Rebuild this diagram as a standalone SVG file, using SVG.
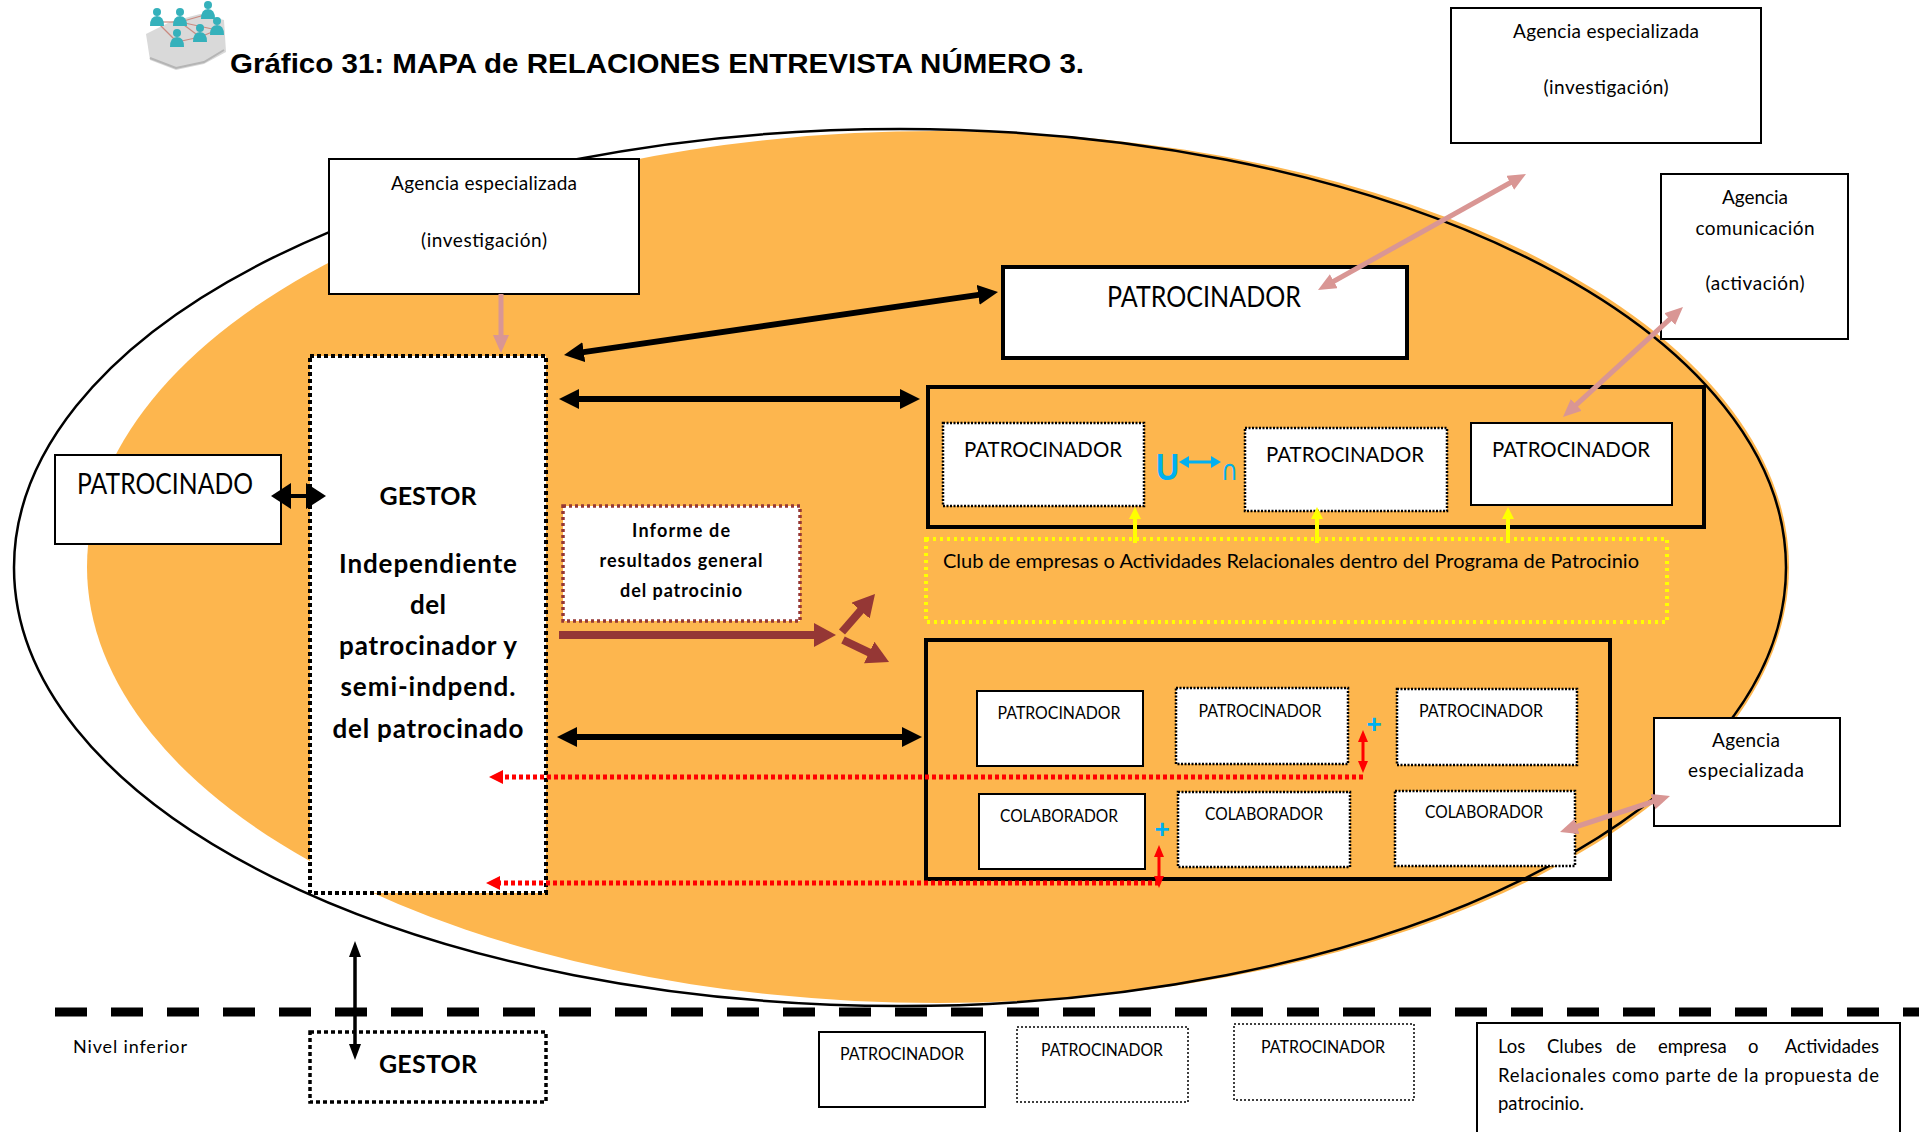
<svg xmlns="http://www.w3.org/2000/svg" width="1919" height="1132" viewBox="0 0 1919 1132">
  <style>
    .t { font-family: Lato, "Open Sans", "Liberation Sans", sans-serif; fill: #000; }
    .b { font-weight: bold; }
    .c { text-anchor: middle; }
    .box { fill: #fff; stroke: #000; stroke-width: 2; }
    .boxThick { fill: #fff; stroke: #000; stroke-width: 4; }
    .grp { fill: none; stroke: #000; stroke-width: 4; }
    .dot { fill: #fff; stroke: #000; stroke-width: 2.5; stroke-dasharray: 2 1.5; }
    .dotThin { fill: #fff; stroke: #000; stroke-width: 1.5; stroke-dasharray: 2 2; }
    .blk { stroke: #000; stroke-width: 6; fill: none; }
    .pink { stroke: #D99694; stroke-width: 5; fill: none; }
    .brown { stroke: #953735; stroke-width: 8; fill: none; }
    .yel { stroke: #FFFF00; stroke-width: 4; fill: none; }
    .red { stroke: #FF0000; stroke-width: 3; fill: none; }
    .redDot { stroke: #FF0000; stroke-width: 5; fill: none; stroke-dasharray: 4 3; }
  </style>
  <defs>
    <marker id="hBlk" markerUnits="userSpaceOnUse" markerWidth="22" markerHeight="22" refX="2" refY="10" orient="auto-start-reverse"><path d="M0,0 L20,10 L0,20 z" fill="#000"/></marker>
    <marker id="hBlkBig" markerUnits="userSpaceOnUse" markerWidth="22" markerHeight="28" refX="2" refY="13" orient="auto-start-reverse"><path d="M0,0 L20,13 L0,26 z" fill="#000"/></marker>
    <marker id="hBlkSm" markerUnits="userSpaceOnUse" markerWidth="18" markerHeight="14" refX="2" refY="6" orient="auto-start-reverse"><path d="M0,0 L16,6 L0,12 z" fill="#000"/></marker>
    <marker id="hPink" markerUnits="userSpaceOnUse" markerWidth="20" markerHeight="18" refX="2" refY="8" orient="auto-start-reverse"><path d="M0,0 L18,8 L0,16 z" fill="#D99694"/></marker>
    <marker id="hBrown" markerUnits="userSpaceOnUse" markerWidth="24" markerHeight="26" refX="2" refY="12" orient="auto-start-reverse"><path d="M0,0 L22,12 L0,24 z" fill="#953735"/></marker>
    <marker id="hYel" markerUnits="userSpaceOnUse" markerWidth="14" markerHeight="14" refX="2" refY="6" orient="auto-start-reverse"><path d="M0,0 L12,6 L0,12 z" fill="#FFFF00"/></marker>
    <marker id="hRed" markerUnits="userSpaceOnUse" markerWidth="14" markerHeight="12" refX="2" refY="5" orient="auto-start-reverse"><path d="M0,0 L12,5 L0,10 z" fill="#FF0000"/></marker>
    <marker id="hRedBig" markerUnits="userSpaceOnUse" markerWidth="16" markerHeight="16" refX="2" refY="7" orient="auto-start-reverse"><path d="M0,0 L14,7 L0,14 z" fill="#FF0000"/></marker>
    <marker id="hBlue" markerUnits="userSpaceOnUse" markerWidth="12" markerHeight="14" refX="2" refY="6" orient="auto-start-reverse"><path d="M0,0 L10,6 L0,12 z" fill="#00B0F0"/></marker>
  </defs>

  <rect width="1919" height="1132" fill="#fff"/>

  <!-- background: relationship area -->
  <ellipse cx="938" cy="567" rx="851" ry="436" fill="#FDB64E"/>
  <ellipse cx="900" cy="567.5" rx="886" ry="438.5" fill="none" stroke="#000" stroke-width="2.5"/>

  <!-- header icon -->
  <g id="icon">
    <path d="M146,34 L170,22 L200,14 L224,20 L226,52 L204,64 L176,70 L150,60 z" fill="#d9d9d9"/>
    <path d="M150,58 L176,68 L204,62 L224,50" fill="none" stroke="#b5b5b5" stroke-width="2"/>
    <g stroke="#c98a80" stroke-width="1.2">
      <line x1="157" y1="22" x2="180" y2="22"/><line x1="180" y1="22" x2="208" y2="14"/>
      <line x1="180" y1="22" x2="200" y2="37"/><line x1="157" y1="22" x2="177" y2="42"/>
      <line x1="200" y1="37" x2="217" y2="30"/><line x1="177" y1="42" x2="200" y2="37"/>
      <line x1="180" y1="22" x2="217" y2="30"/>
    </g>
    <g fill="#35b1bb">
      <circle cx="157" cy="12" r="4"/><path d="M150,26 Q150,16 157,16 Q164,16 164,26 z"/>
      <circle cx="180" cy="12" r="4"/><path d="M173,26 Q173,16 180,16 Q187,16 187,26 z"/>
      <circle cx="208" cy="5" r="4"/><path d="M201,19 Q201,9 208,9 Q215,9 215,19 z"/>
      <circle cx="217" cy="21" r="4"/><path d="M210,35 Q210,25 217,25 Q224,25 224,35 z"/>
      <circle cx="200" cy="28" r="4"/><path d="M193,42 Q193,32 200,32 Q207,32 207,42 z"/>
      <circle cx="177" cy="33" r="4"/><path d="M170,47 Q170,37 177,37 Q184,37 184,47 z"/>
    </g>
  </g>

  <text class="t" x="230" y="73" font-family="'Liberation Sans', Arial, sans-serif" font-weight="bold" font-size="28" textLength="854" lengthAdjust="spacingAndGlyphs" style="font-family:'Liberation Sans', Arial, sans-serif">Gráfico 31: MAPA de RELACIONES ENTREVISTA NÚMERO 3.</text>

  <!-- nodes -->
  <g id="agencia-investigacion-top">
    <rect class="box" x="1451" y="8" width="310" height="135"/>
    <text class="t c" x="1606" y="38" font-size="19" textLength="186">Agencia especializada</text>
    <text class="t c" x="1606" y="94" font-size="19" textLength="125">(investigación)</text>
  </g>

  <g id="agencia-comunicacion">
    <rect class="box" x="1661" y="174" width="187" height="165"/>
    <text class="t c" x="1755" y="204" font-size="19" textLength="66">Agencia</text>
    <text class="t c" x="1755" y="235" font-size="19" textLength="119">comunicación</text>
    <text class="t c" x="1755" y="290" font-size="19" textLength="99">(activación)</text>
  </g>

  <g id="agencia-investigacion">
    <rect class="box" x="329" y="159" width="310" height="135"/>
    <text class="t c" x="484" y="190" font-size="19" textLength="186">Agencia especializada</text>
    <text class="t c" x="484" y="247" font-size="19" textLength="126">(investigación)</text>
  </g>

  <g id="patrocinado">
    <rect class="box" x="55" y="455" width="226" height="89"/>
    <text class="t c" x="165" y="494" font-size="28" textLength="176" lengthAdjust="spacingAndGlyphs">PATROCINADO</text>
  </g>

  <g id="gestor">
    <rect x="310" y="356" width="236" height="537" fill="#fff" stroke="#000" stroke-width="4" stroke-dasharray="4 3"/>
    <text class="t b c" x="428" y="505" font-size="25" textLength="97">GESTOR</text>
    <text class="t b c" x="428" y="573" font-size="26" textLength="178">Independiente</text>
    <text class="t b c" x="428" y="614" font-size="26" textLength="36">del</text>
    <text class="t b c" x="428" y="655" font-size="26" textLength="178">patrocinador y</text>
    <text class="t b c" x="428" y="696" font-size="26" textLength="175">semi-indpend.</text>
    <text class="t b c" x="428" y="738" font-size="26" textLength="191">del patrocinado</text>
  </g>

  <g id="informe">
    <rect x="563" y="506" width="237" height="115" fill="#fff" stroke="#953735" stroke-width="3.5" stroke-dasharray="3 3"/>
    <text class="t b c" x="681" y="537" font-size="18" textLength="98">Informe de</text>
    <text class="t b c" x="681" y="567" font-size="18" textLength="163">resultados general</text>
    <text class="t b c" x="681" y="597" font-size="18" textLength="122">del patrocinio</text>
  </g>

  <g id="patrocinador-principal">
    <rect class="boxThick" x="1003" y="267" width="404" height="91"/>
    <text class="t c" x="1204" y="307" font-size="28" textLength="194" lengthAdjust="spacingAndGlyphs">PATROCINADOR</text>
  </g>

  <g id="grupo-patrocinadores">
    <rect class="grp" x="928" y="387" width="776" height="140"/>
    <g id="pat-g1-1">
      <rect class="dot" x="943" y="423" width="201" height="83"/>
      <text class="t c" x="1043" y="457" font-size="22" textLength="158" lengthAdjust="spacingAndGlyphs">PATROCINADOR</text>
    </g>
    <g id="pat-g1-2">
      <rect class="dot" x="1245" y="428" width="202" height="83"/>
      <text class="t c" x="1345" y="462" font-size="22" textLength="158" lengthAdjust="spacingAndGlyphs">PATROCINADOR</text>
    </g>
    <g id="pat-g1-3">
      <rect class="box" x="1471" y="423" width="201" height="82"/>
      <text class="t c" x="1571" y="457" font-size="22" textLength="158" lengthAdjust="spacingAndGlyphs">PATROCINADOR</text>
    </g>
    <g id="union" fill="#00B0F0">
      <text x="1156" y="480" font-family="'Liberation Sans', Arial, sans-serif" font-weight="bold" font-size="36" fill="#00B0F0" textLength="23" lengthAdjust="spacingAndGlyphs">U</text>
      <text x="1221" y="480" font-family="'DejaVu Sans', sans-serif" font-size="28" fill="#00B0F0" textLength="17" lengthAdjust="spacingAndGlyphs">∩</text>
    </g>
  </g>

  <g id="club-empresas">
    <rect x="926" y="539" width="741" height="83" fill="none" stroke="#FFFF00" stroke-width="4" stroke-dasharray="3 4"/>
    <text class="t" x="943" y="568" font-size="20" textLength="696" lengthAdjust="spacingAndGlyphs">Club de empresas o Actividades Relacionales dentro del  Programa de Patrocinio</text>
  </g>

  <g id="grupo-patrocinadores-colaboradores">
    <rect class="grp" x="926" y="640" width="684" height="239"/>
    <g id="pat-g2-1">
      <rect class="box" x="977" y="691" width="166" height="75"/>
      <text class="t c" x="1059" y="719" font-size="17" textLength="123" lengthAdjust="spacingAndGlyphs">PATROCINADOR</text>
    </g>
    <g id="pat-g2-2">
      <rect class="dot" x="1176" y="688" width="172" height="76"/>
      <text class="t c" x="1260" y="717" font-size="17" textLength="123" lengthAdjust="spacingAndGlyphs">PATROCINADOR</text>
    </g>
    <g id="pat-g2-3">
      <rect class="dot" x="1397" y="689" width="180" height="76"/>
      <text class="t c" x="1481" y="717" font-size="17" textLength="124" lengthAdjust="spacingAndGlyphs">PATROCINADOR</text>
    </g>
    <g id="col-1">
      <rect class="box" x="979" y="794" width="166" height="75"/>
      <text class="t c" x="1059" y="822" font-size="17" textLength="118" lengthAdjust="spacingAndGlyphs">COLABORADOR</text>
    </g>
    <g id="col-2">
      <rect class="dot" x="1178" y="792" width="172" height="75"/>
      <text class="t c" x="1264" y="820" font-size="17" textLength="118" lengthAdjust="spacingAndGlyphs">COLABORADOR</text>
    </g>
    <g id="col-3">
      <rect class="dot" x="1395" y="791" width="180" height="75"/>
      <text class="t c" x="1484" y="818" font-size="17" textLength="118" lengthAdjust="spacingAndGlyphs">COLABORADOR</text>
    </g>
    <text x="1374" y="733" font-family="'Liberation Sans', Arial, sans-serif" font-weight="bold" font-size="26" fill="#00B0F0" text-anchor="middle">+</text>
    <text x="1162" y="838" font-family="'Liberation Sans', Arial, sans-serif" font-weight="bold" font-size="26" fill="#00B0F0" text-anchor="middle">+</text>
  </g>

  <g id="agencia-especializada-derecha">
    <rect class="box" x="1654" y="718" width="186" height="108"/>
    <text class="t c" x="1746" y="747" font-size="19" textLength="68">Agencia</text>
    <text class="t c" x="1746" y="777" font-size="19" textLength="116">especializada</text>
  </g>

  <!-- lower level -->
  <line x1="55" y1="1012" x2="1919" y2="1012" stroke="#000" stroke-width="9" stroke-dasharray="32 24"/>
  <text class="t" x="73" y="1053" font-size="18" textLength="114">Nivel inferior</text>

  <g id="gestor-inferior">
    <rect x="310" y="1032" width="236" height="70" fill="#fff" stroke="#000" stroke-width="3.5" stroke-dasharray="4 3"/>
    <text class="t b c" x="428" y="1073" font-size="25" textLength="98">GESTOR</text>
  </g>
  <g id="pat-inf-1">
    <rect class="box" x="819" y="1032" width="166" height="75" stroke-width="2.5"/>
    <text class="t c" x="902" y="1060" font-size="17" textLength="124" lengthAdjust="spacingAndGlyphs">PATROCINADOR</text>
  </g>
  <g id="pat-inf-2">
    <rect class="dotThin" x="1017" y="1027" width="171" height="75"/>
    <text class="t c" x="1102" y="1056" font-size="17" textLength="122" lengthAdjust="spacingAndGlyphs">PATROCINADOR</text>
  </g>
  <g id="pat-inf-3">
    <rect class="dotThin" x="1234" y="1024" width="180" height="76"/>
    <text class="t c" x="1323" y="1053" font-size="17" textLength="124" lengthAdjust="spacingAndGlyphs">PATROCINADOR</text>
  </g>
  <g id="nota-clubes">
    <rect class="box" x="1477" y="1023" width="423" height="130" stroke-width="2.5"/>
    <text class="t" y="1053" font-size="18.5">
      <tspan x="1498">Los</tspan><tspan x="1547">Clubes</tspan><tspan x="1616">de</tspan><tspan x="1658">empresa</tspan><tspan x="1748">o</tspan>
    </text>
    <text class="t" x="1879" y="1053" font-size="18.5" text-anchor="end">Actividades</text>
    <text class="t" x="1498" y="1082" font-size="18.5" textLength="381" lengthAdjust="spacing">Relacionales como parte de la propuesta de</text>
    <text class="t" x="1498" y="1110" font-size="18.5">patrocinio.</text>
  </g>

  <!-- connectors -->
  <g id="connectors">
    <line class="blk" x1="581.8" y1="352.4" x2="980.2" y2="294.6" marker-start="url(#hBlk)" marker-end="url(#hBlk)"/>
    <line class="blk" x1="577" y1="399" x2="902" y2="399" marker-start="url(#hBlk)" marker-end="url(#hBlk)"/>
    <line class="blk" x1="575" y1="737" x2="904" y2="737" marker-start="url(#hBlk)" marker-end="url(#hBlk)"/>
    <line x1="289" y1="496" x2="308" y2="496" stroke="#000" stroke-width="4" marker-start="url(#hBlkBig)" marker-end="url(#hBlkBig)"/>
    <line x1="355" y1="955" x2="355" y2="1046" stroke="#000" stroke-width="3.5" marker-start="url(#hBlkSm)" marker-end="url(#hBlkSm)"/>

    <line class="pink" x1="501" y1="294" x2="501" y2="337" marker-end="url(#hPink)"/>
    <line class="pink" x1="1332" y1="282.2" x2="1512" y2="181.8" marker-start="url(#hPink)" marker-end="url(#hPink)"/>
    <line class="pink" x1="1574.8" y1="406.2" x2="1671.2" y2="317.8" marker-start="url(#hPink)" marker-end="url(#hPink)"/>
    <line class="pink" x1="1575.2" y1="827" x2="1654.8" y2="801" marker-start="url(#hPink)" marker-end="url(#hPink)"/>

    <line class="brown" x1="559" y1="635" x2="816" y2="635" marker-end="url(#hBrown)"/>
    <line class="brown" x1="842" y1="632" x2="861.9" y2="609.1" stroke-width="7" marker-end="url(#hBrown)"/>
    <line class="brown" x1="843" y1="640" x2="871" y2="653.4" stroke-width="7" marker-end="url(#hBrown)"/>

    <line class="yel" x1="1135" y1="543" x2="1135" y2="517" marker-end="url(#hYel)"/>
    <line class="yel" x1="1317" y1="543" x2="1317" y2="517" marker-end="url(#hYel)"/>
    <line class="yel" x1="1508" y1="543" x2="1508" y2="517" marker-end="url(#hYel)"/>

    <line x1="1187" y1="462" x2="1213" y2="462" stroke="#00B0F0" stroke-width="3" marker-start="url(#hBlue)" marker-end="url(#hBlue)"/>

    <line class="red" x1="1363" y1="740" x2="1363" y2="763" marker-start="url(#hRed)" marker-end="url(#hRed)"/>
    <line class="red" x1="1159" y1="855" x2="1159" y2="878" marker-start="url(#hRed)" marker-end="url(#hRed)"/>
    <line class="redDot" x1="1363" y1="777" x2="501" y2="777" marker-end="url(#hRedBig)"/>
    <line class="redDot" x1="1159" y1="883" x2="498" y2="883" marker-end="url(#hRedBig)"/>
  </g>
</svg>
